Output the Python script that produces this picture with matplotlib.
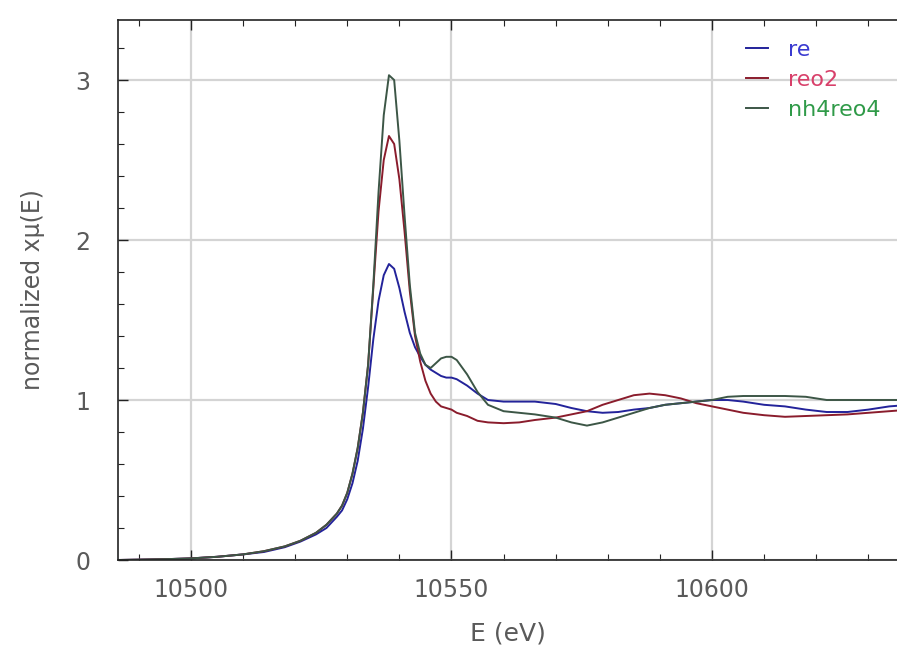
import matplotlib
matplotlib.use("Agg")
import matplotlib.pyplot as plt
from matplotlib.ticker import MultipleLocator

# Re L3-edge XANES, normalized absorption
energy = [10486, 10490, 10495, 10500, 10505, 10510, 10514, 10518, 10521, 10524,
          10526, 10528, 10529, 10530, 10531, 10532, 10533, 10534, 10535, 10536,
          10537, 10538, 10539, 10540, 10541, 10542, 10543, 10544, 10545, 10546,
          10547, 10548, 10549, 10550, 10551, 10553, 10555, 10557, 10560, 10563,
          10566, 10570, 10573, 10576, 10579, 10582, 10585, 10588, 10591, 10594,
          10597, 10600, 10603, 10606, 10610, 10614, 10618, 10622, 10626, 10630,
          10634, 10636]

mu_re = [0.0, 0.002, 0.005, 0.01, 0.02, 0.035, 0.05, 0.08, 0.115, 0.16,
         0.2, 0.27, 0.31, 0.38, 0.48, 0.62, 0.82, 1.08, 1.38, 1.62,
         1.78, 1.85, 1.82, 1.70, 1.55, 1.42, 1.33, 1.27, 1.22, 1.19,
         1.17, 1.15, 1.14, 1.14, 1.13, 1.09, 1.04, 1.0, 0.99, 0.99,
         0.99, 0.975, 0.95, 0.93, 0.92, 0.925, 0.94, 0.95, 0.97, 0.98,
         0.99, 1.0, 1.0, 0.99, 0.97, 0.96, 0.94, 0.925, 0.925, 0.94,
         0.96, 0.965]

mu_reo2 = [0.0, 0.002, 0.005, 0.01, 0.02, 0.035, 0.055, 0.085, 0.12, 0.17,
           0.22, 0.29, 0.34, 0.42, 0.54, 0.70, 0.92, 1.22, 1.70, 2.18,
           2.50, 2.65, 2.60, 2.38, 2.05, 1.68, 1.40, 1.24, 1.12, 1.04,
           0.99, 0.96, 0.95, 0.94, 0.92, 0.90, 0.87, 0.86, 0.855, 0.86,
           0.875, 0.89, 0.91, 0.93, 0.97, 1.0, 1.03, 1.04, 1.03, 1.01,
           0.98, 0.96, 0.94, 0.92, 0.905, 0.895, 0.9, 0.905, 0.91, 0.92,
           0.93, 0.935]

mu_nh4reo4 = [0.0, 0.002, 0.005, 0.01, 0.02, 0.035, 0.055, 0.085, 0.12, 0.17,
              0.22, 0.29, 0.34, 0.42, 0.54, 0.70, 0.92, 1.22, 1.72, 2.30,
              2.78, 3.03, 3.0, 2.62, 2.15, 1.72, 1.42, 1.29, 1.22, 1.20,
              1.23, 1.26, 1.27, 1.27, 1.25, 1.16, 1.05, 0.97, 0.93, 0.92,
              0.91, 0.89, 0.86, 0.84, 0.86, 0.89, 0.92, 0.95, 0.97, 0.98,
              0.99, 1.0, 1.02, 1.025, 1.025, 1.025, 1.02, 1.0, 1.0, 1.0,
              1.0, 1.0]

series_names = ["re", "reo2", "nh4reo4"]
line_colors = ["#23239a", "#8a1c2c", "#3c5646"]
label_colors = ["#3a3ad0", "#d8406a", "#2f9a48"]

xticks = [10500, 10550, 10600]
yticks = [0, 1, 2, 3]

fig = plt.figure(figsize=(8.97, 6.45), dpi=100)
ax = fig.add_axes([118 / 897, 85 / 645, (897 - 118) / 897, 540 / 645])

for values, name, col in zip([mu_re, mu_reo2, mu_nh4reo4], series_names, line_colors):
    ax.plot(energy, values, color=col, lw=1.4, label=name)

ax.set_xlim(10486, 10635.5)
ax.set_ylim(0, 3.375)
ax.set_xticks(xticks)
ax.set_yticks(yticks)
ax.xaxis.set_minor_locator(MultipleLocator(10))
ax.yaxis.set_minor_locator(MultipleLocator(0.2))
ax.grid(True, which="major", color="#d4d4d4", lw=1.6)
ax.set_axisbelow(True)

ax.tick_params(which="both", direction="in", top=True, right=False,
               colors="#222222", labelcolor="#5a5a5a", labelsize=17)
ax.tick_params(which="major", length=7, width=1)
ax.tick_params(which="minor", length=4, width=0.8)
ax.tick_params(axis="x", pad=13)
ax.tick_params(axis="y", pad=20)
for side in ["left", "bottom", "top"]:
    ax.spines[side].set_color("#222222")
    ax.spines[side].set_linewidth(1.2)
ax.spines["right"].set_visible(False)

ax.set_xlabel("E (eV)", fontsize=18, color="#5a5a5a", labelpad=14)
ax.set_ylabel("normalized xμ(E)", fontsize=17, color="#5a5a5a", labelpad=22)

leg = ax.legend(loc="upper left", bbox_to_anchor=(0.795, 0.979), frameon=False,
                fontsize=16, handlelength=1.0, handletextpad=0.9,
                labelspacing=0.45, borderaxespad=0)
for txt, col in zip(leg.get_texts(), label_colors):
    txt.set_color(col)

fig.savefig("out.png", dpi=100)
